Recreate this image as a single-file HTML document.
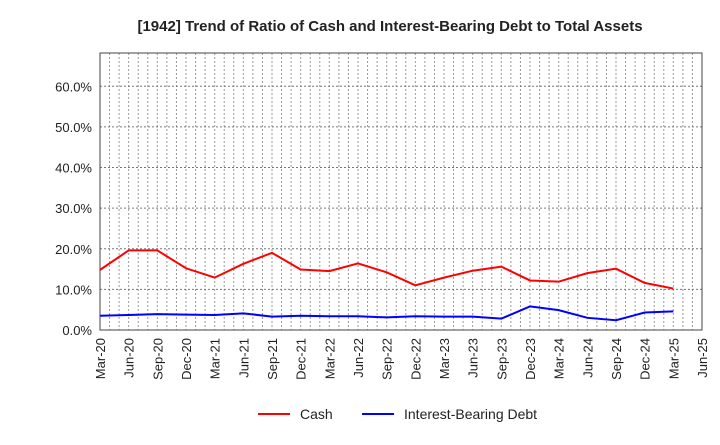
<!DOCTYPE html>
<html><head><meta charset="utf-8"><style>
body{margin:0;background:#fff;font-family:"Liberation Sans",sans-serif}
</style></head><body>
<svg id="chart" width="720" height="440" xmlns="http://www.w3.org/2000/svg">
<text x="390" y="31" text-anchor="middle" font-size="15" font-weight="bold" fill="#222">[1942]  Trend of Ratio of Cash and Interest-Bearing Debt to Total Assets</text>
<g id="grid"></g><g id="axes"></g><g id="series"></g>
<g>
<line x1="258" y1="414" x2="290" y2="414" stroke="#f00" stroke-width="2"/>
<text x="300" y="419" font-size="14" fill="#222">Cash</text>
<line x1="362" y1="414" x2="394" y2="414" stroke="#00f" stroke-width="2"/>
<text x="404" y="419" font-size="14" fill="#222">Interest-Bearing Debt</text>
</g>
</svg>
<script>
const categories=["Mar-20","Jun-20","Sep-20","Dec-20","Mar-21","Jun-21","Sep-21","Dec-21","Mar-22","Jun-22","Sep-22","Dec-22","Mar-23","Jun-23","Sep-23","Dec-23","Mar-24","Jun-24","Sep-24","Dec-24","Mar-25","Jun-25"];
const cash=[14.8,19.6,19.6,15.2,12.9,16.3,19.0,14.9,14.5,16.4,14.2,11.0,12.9,14.6,15.6,12.2,11.9,14.0,15.1,11.6,10.2];
const debt=[3.5,3.7,3.9,3.8,3.7,4.1,3.3,3.5,3.4,3.4,3.1,3.4,3.3,3.3,2.8,5.8,4.9,3.0,2.4,4.3,4.6];
const yTicks=[0,10,20,30,40,50,60];
const L=100,R=702,T=53,B=330;
const x=i=>L+(R-L)*i/(categories.length-1);
const y=v=>B-v*(B-T)/68.2;
const NS="http://www.w3.org/2000/svg";
function mk(p,t,a){const e=document.createElementNS(NS,t);for(const k in a)e.setAttribute(k,a[k]);p.appendChild(e);return e;}
const g=document.getElementById('grid'),ax=document.getElementById('axes'),s=document.getElementById('series');
for(let m=1;m<(categories.length-1)*3;m++){const xx=L+(R-L)*m/((categories.length-1)*3);
const l=mk(g,'line',{x1:xx,x2:xx,y1:T,y2:B,stroke:'#999','stroke-dasharray':'2,2','stroke-width':1});

}
yTicks.forEach(v=>{if(v>0){const l=mk(g,'line',{x1:L,x2:R,y1:y(v),y2:y(v),stroke:'#777','stroke-dasharray':'2,2'});

}
const t=mk(ax,'text',{x:L-8,y:y(v)+5,'text-anchor':'end','font-size':13,fill:'#222'});t.textContent=v.toFixed(1)+'%';

});
const fr=mk(ax,'rect',{x:L,y:T,width:R-L,height:B-T,fill:'none',stroke:'#444'});


categories.forEach((c,i)=>{const t=mk(ax,'text',{x:0,y:0,'text-anchor':'end','font-size':13,fill:'#222',transform:`translate(${x(i)+5},${B+8}) rotate(-90)`});t.textContent=c;

});
function line(d,c,n){const p=mk(s,'polyline',{points:d.map((v,i)=>x(i)+','+y(v)).join(' '),fill:'none',stroke:c,'stroke-width':2});

}
line(cash,'#f00','cash-line');line(debt,'#00f','debt-line');
</script>
</body></html>
